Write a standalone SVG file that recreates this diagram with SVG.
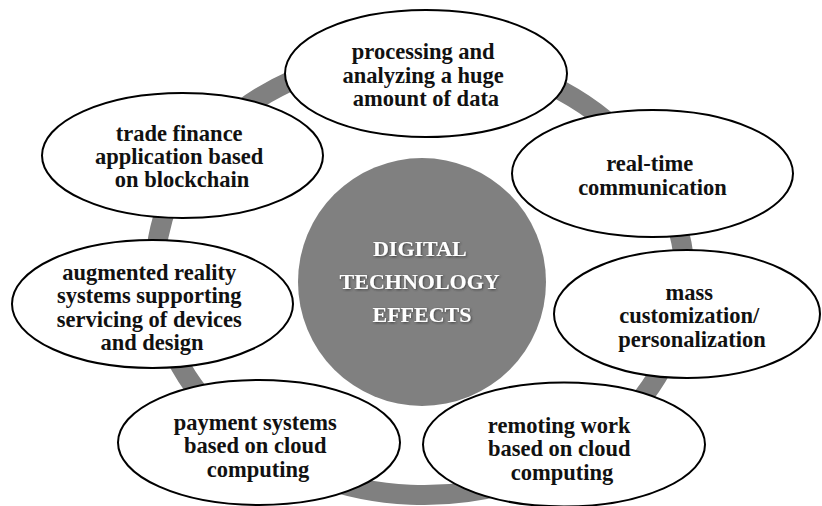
<svg xmlns="http://www.w3.org/2000/svg" width="822" height="506" viewBox="0 0 822 506">
  <defs>
    <filter id="softShadow" x="-10%" y="-10%" width="120%" height="130%">
      <feDropShadow dx="1" dy="1" stdDeviation="0.8" flood-color="#2a2a2a" flood-opacity="0.7"/>
    </filter>
  </defs>
  <style>
    .bubble { fill: #ffffff; stroke: #000000; stroke-width: 2; }
    .label { font-family: "Liberation Serif", "Times New Roman", serif; font-weight: bold; font-size: 22.5px; fill: #111111; text-anchor: middle; }
    .hub { fill: #808080; }
    .hub-label { font-family: "Liberation Serif", "Times New Roman", serif; font-weight: bold; font-size: 22px; fill: #ffffff; text-anchor: middle; filter: url(#softShadow); }
    .ring { fill: none; stroke: #808080; stroke-width: 20; }
  </style>

  <rect width="822" height="506" fill="#ffffff"/>

  <!-- connecting ring running through all effect bubbles -->
  <g id="connectors">
    <ellipse class="ring" cx="420" cy="275" rx="265" ry="220" transform="rotate(2.5 420 275)"/>
  </g>

  <!-- central hub -->
  <g id="hub">
    <circle class="hub" cx="422" cy="282" r="124"/>
    <text class="hub-label">
      <tspan x="422" y="255.5">DIGITAL</tspan>
      <tspan x="422" y="289">TECHNOLOGY</tspan>
      <tspan x="422" y="321.5">EFFECTS</tspan>
    </text>
  </g>

  <g id="node-big-data">
    <ellipse class="bubble" cx="426" cy="73.5" rx="141" ry="63.5"/>
    <text class="label">
      <tspan x="426" y="59">processing and</tspan>
      <tspan x="426" y="82.5">analyzing a huge</tspan>
      <tspan x="426" y="106">amount of data</tspan>
    </text>
  </g>

  <g id="node-real-time">
    <ellipse class="bubble" cx="652.5" cy="173.5" rx="140.5" ry="63.5"/>
    <text class="label">
      <tspan x="652.5" y="170.5">real-time</tspan>
      <tspan x="652.5" y="194.5">communication</tspan>
    </text>
  </g>

  <g id="node-mass-customization">
    <ellipse class="bubble" cx="687" cy="314" rx="133" ry="64"/>
    <text class="label">
      <tspan x="692" y="299.5">mass</tspan>
      <tspan x="692" y="323">customization/</tspan>
      <tspan x="692" y="346.5">personalization</tspan>
    </text>
  </g>

  <g id="node-remote-work">
    <ellipse class="bubble" cx="564" cy="444.5" rx="141" ry="62"/>
    <text class="label">
      <tspan x="562" y="432.5">remoting work</tspan>
      <tspan x="562" y="456">based on cloud</tspan>
      <tspan x="562" y="479.5">computing</tspan>
    </text>
  </g>

  <g id="node-payment">
    <ellipse class="bubble" cx="259" cy="442.5" rx="141" ry="62.5"/>
    <text class="label">
      <tspan x="258" y="429.5">payment systems</tspan>
      <tspan x="258" y="453">based on cloud</tspan>
      <tspan x="258" y="476.5">computing</tspan>
    </text>
  </g>

  <g id="node-augmented-reality">
    <ellipse class="bubble" cx="152.5" cy="304" rx="140.5" ry="64"/>
    <text class="label">
      <tspan x="152" y="279.5">augmented reality</tspan>
      <tspan x="152" y="303">systems supporting</tspan>
      <tspan x="152" y="326.5">servicing of devices</tspan>
      <tspan x="152" y="350">and design</tspan>
    </text>
  </g>

  <g id="node-trade-finance">
    <ellipse class="bubble" cx="182.5" cy="155.5" rx="140.5" ry="62.5"/>
    <text class="label">
      <tspan x="182" y="140.5">trade finance</tspan>
      <tspan x="182" y="164">application based</tspan>
      <tspan x="182" y="187">on blockchain</tspan>
    </text>
  </g>
</svg>
